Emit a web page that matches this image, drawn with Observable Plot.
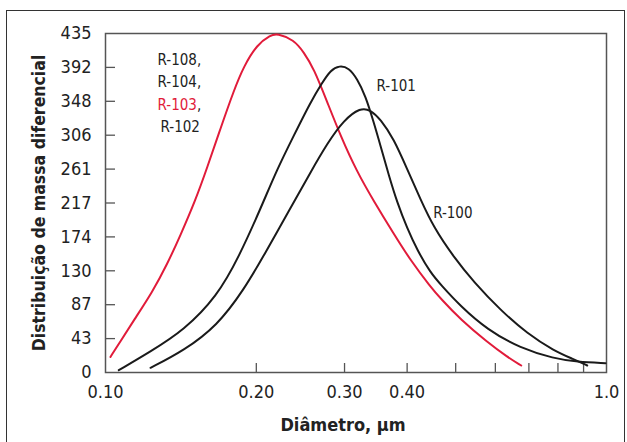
<!DOCTYPE html>
<html>
<head>
<meta charset="utf-8">
<script src="https://cdn.jsdelivr.net/npm/d3@7"></script>
<script src="https://cdn.jsdelivr.net/npm/@observablehq/plot@0.6"></script>
<style>
  html, body { margin: 0; padding: 0; background: #fff; }
  body { width: 627px; height: 442px; overflow: hidden; position: relative; }
  #border { position: absolute; left: 6px; top: 10px; width: 619px; height: 460px; border: 1.5px solid #333; box-sizing: border-box; }
  #chart { position: absolute; left: 0; top: 0; }
  svg text { font-family: "DejaVu Sans Condensed", "Liberation Sans Narrow", "Roboto", sans-serif; }
</style>
</head>
<body>
<div id="border"></div>
<div id="chart"></div>
<script>
// ---- data ----
const xTitle = "Diâmetro, µm";
const yTitle = "Distribuição de massa diferencial";

const yTickValues = [0, 43.5, 87, 130.5, 174, 217.5, 261, 304.5, 348, 391.5, 435];
const yTickLabels = ["0", "43", "87", "130", "174", "217", "261", "306", "348", "392", "435"];
const yInnerTicks = [43.5, 87, 130.5, 174, 217.5, 261, 304.5, 348, 391.5];
const xLabelTicks = [0.1, 0.2, 0.3, 0.4, 1.0];
const xLabelTexts = ["0.10", "0.20", "0.30", "0.40", "1.0"];
const xMinorTicks = [0.2, 0.3, 0.4, 0.5, 0.6, 0.7, 0.8, 0.9];

// R-103 (red; also R-108, R-104, R-102)
const r103X = [0.1023, 0.1071, 0.1139, 0.1240, 0.1328, 0.1411, 0.1512, 0.1596, 0.1696, 0.1804, 0.1888, 0.2008, 0.2135, 0.2201, 0.2376, 0.2488, 0.2605, 0.2771, 0.2944, 0.3179, 0.3431, 0.3761, 0.4062, 0.4453, 0.4664, 0.5112, 0.5779, 0.6336, 0.6757];
const r103Y = [20, 40, 67, 103, 139, 176, 221, 263, 313, 362, 393, 421, 433, 435, 427, 411, 390, 347, 304, 257, 220, 178, 144, 110, 95, 68, 39, 20, 9];
// R-101
const r101X = [0.1063, 0.1230, 0.1433, 0.1671, 0.1845, 0.2039, 0.2201, 0.2376, 0.2566, 0.2708, 0.2813, 0.2931, 0.3059, 0.3179, 0.3303, 0.3431, 0.3539, 0.3677, 0.3822, 0.4001, 0.4190, 0.4453, 0.4664, 0.5112, 0.5779, 0.6735, 0.7851, 0.8741, 0.9954];
const r101Y = [3, 27, 54, 98, 148, 210, 261, 304, 347, 372, 388, 394, 391, 377, 355, 321, 291, 253, 218, 185, 157, 128, 113, 85, 55, 31, 18, 13.5, 12];
// R-100
const r100X = [0.1230, 0.1433, 0.1671, 0.1888, 0.2070, 0.2340, 0.2566, 0.2771, 0.2989, 0.3228, 0.3380, 0.3539, 0.3761, 0.4001, 0.4254, 0.4521, 0.4957, 0.5434, 0.6143, 0.6946, 0.7851, 0.8603, 0.9152];
const r100Y = [6, 28, 60, 106, 150, 211, 257, 294, 324, 340, 337, 325, 300, 261, 222, 186, 148, 116, 80, 50, 28, 17, 9];

const labelTexts = ["R-108,", "R-104,", "R-103,", "R-102", "R-101", "R-100"];
const labelX = [0.127, 0.127, 0.127, 0.1288, 0.3475, 0.4508];
const labelY = [401, 372, 343, 315, 367, 205];

// ---- build tables ----
const series = [
  {name: "R-103", xs: r103X, ys: r103Y, color: "#e11b3a"},
  {name: "R-101", xs: r101X, ys: r101Y, color: "#1a1a1a"},
  {name: "R-100", xs: r100X, ys: r100Y, color: "#1a1a1a"}
];
const lineData = series.flatMap(s => s.xs.map((x, i) => ({series: s.name, x, y: s.ys[i], color: s.color})));
const labels = labelTexts.map((t, i) => ({text: t, x: labelX[i], y: labelY[i]}));

const chart = Plot.plot({
  width: 627,
  height: 442,
  marginLeft: 105,
  marginRight: 21,
  marginTop: 33,
  marginBottom: 70,
  style: {background: "transparent", fontFamily: "'DejaVu Sans Condensed', 'Liberation Sans Narrow', Roboto, sans-serif"},
  x: {type: "log", domain: [0.1, 1], axis: null},
  y: {domain: [0, 435], axis: null},
  marks: [
    Plot.frame({stroke: "#555", strokeWidth: 1.5}),
    Plot.axisY({ticks: yTickValues, tickSize: 0, tickPadding: 14, tickFormat: (d, i) => yTickLabels[i], fontSize: 18, fill: "#222", label: null}),
    Plot.tickY(yInnerTicks, {y: d => d, insetRight: 491, stroke: "#555", strokeWidth: 1.3}),
    Plot.tickX(xMinorTicks, {x: d => d, insetTop: 330, stroke: "#555", strokeWidth: 1.3}),
    Plot.text(xLabelTicks, {x: d => d, text: (d, i) => xLabelTexts[i], frameAnchor: "bottom", lineAnchor: "top", dy: 13, fontSize: 18, fill: "#222"}),
    Plot.line(lineData, {x: "x", y: "y", z: "series", stroke: "color", strokeWidth: 2, curve: "basis"}),
    Plot.text(labels, {x: "x", y: "y", text: "text", fill: "#222", textAnchor: "start", fontSize: 15}),
    Plot.text([xTitle], {frameAnchor: "bottom", dx: -13, dy: 58, lineAnchor: "bottom", fontSize: 18, fontWeight: "bold", fill: "#222"}),
    Plot.text([yTitle], {frameAnchor: "left", rotate: -90, dx: -73, textAnchor: "middle", lineAnchor: "top", fontSize: 17.5, fontWeight: "bold", fill: "#222"})
  ]
});
document.getElementById("chart").appendChild(chart);

// colour "R-103" red while keeping its trailing comma black
d3.select(chart).selectAll("text").each(function () {
  if (this.textContent === "R-103,") {
    const el = d3.select(this);
    el.text(null);
    el.append("tspan").attr("fill", "#e11b3a").text("R-103");
    el.append("tspan").attr("fill", "#222").text(",");
  }
});
</script>
</body>
</html>
